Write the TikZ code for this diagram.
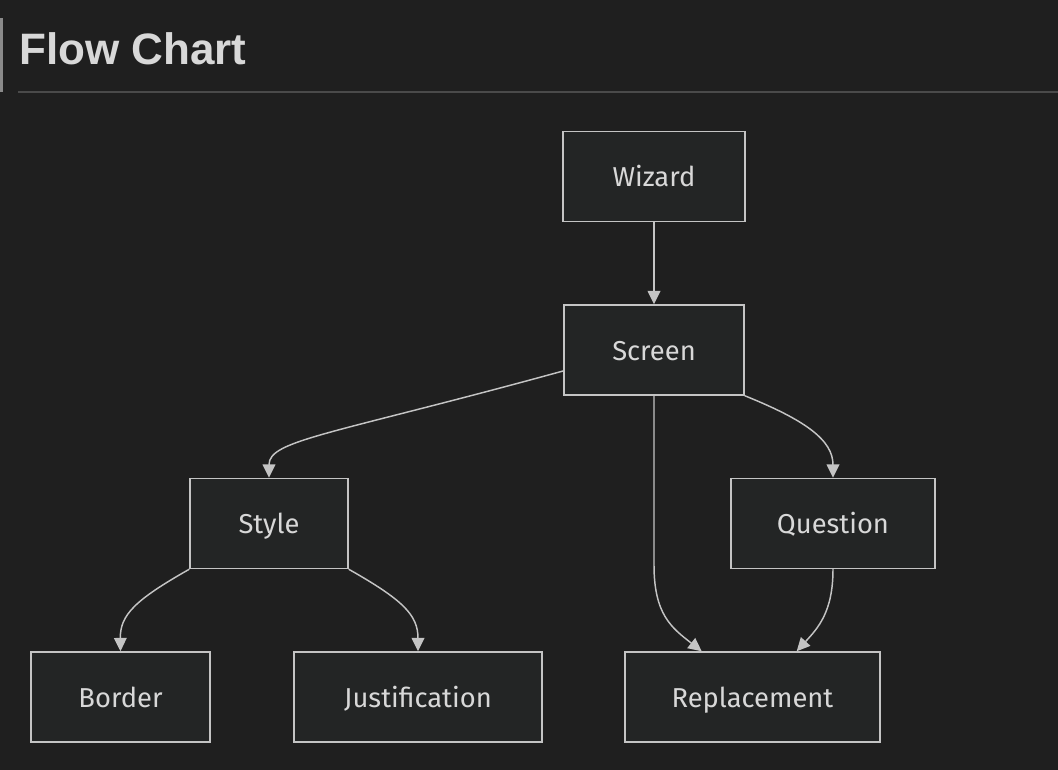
\documentclass[tikz,border=0pt]{standalone}
\usepackage{fontspec}
\setmainfont{Fira Sans}
\newfontfamily\titlefont{Liberation Sans}
\usetikzlibrary{arrows.meta}

\definecolor{bgcol}{HTML}{1F1F1F}
\definecolor{boxfill}{HTML}{232525}
\definecolor{boxline}{HTML}{C4C4C4}
\definecolor{txtcol}{HTML}{D8D8D8}
\definecolor{rulecol}{HTML}{4A4A4A}
\definecolor{barcol}{HTML}{8A8A8A}

\tikzset{
  stepbox/.style={draw=boxline, fill=boxfill, line width=1.1pt, text=txtcol,
    minimum height=67.5pt, inner sep=0pt, text height=18pt, text depth=3pt,
    font=\fontsize{20.5}{24}\selectfont},
  link/.style={draw=boxline, line width=1.1pt,
    -{Triangle[length=10pt, width=9.5pt, fill=boxline]}}
}

\begin{document}
\begin{tikzpicture}[x=.75pt, y=-.75pt]
  \fill[bgcol] (0,0) rectangle (1058,770);
  \useasboundingbox (0,0) rectangle (1058,770);

  % heading
  \fill[barcol] (0,18) rectangle (3,92);
  \draw[rulecol, line width=.9pt] (18,92) -- (1058,92);
  \node[anchor=base west, inner sep=0pt, text=txtcol,
    font=\titlefont\bfseries\fontsize{33}{38}\selectfont] (title) at (19,65) {Flow Chart};

  % boxes
  \node[stepbox, minimum width=136.5pt] (wizard) at (654,176.5) {Wizard};
  \node[stepbox, minimum width=135pt] (screen) at (654,350) {Screen};
  \node[stepbox, minimum width=118.5pt] (style) at (269,523.5) {Style};
  \node[stepbox, minimum width=153pt] (question) at (833,523.5) {Question};
  \node[stepbox, minimum width=134.25pt] (border) at (120.5,697) {Border};
  \node[stepbox, minimum width=186pt] (justif) at (418,697) {Justification};
  \node[stepbox, minimum width=191.25pt] (replace) at (752.5,697) {Replacement};

  % links
  \draw[link] (wizard.south) -- (screen.north);
  \draw[link] (screen.193) .. controls (330,435) and (269,440) .. (style.north);
  \draw[link] (screen.south east) .. controls (805,420) and (833,440) .. (question.north);
  \draw[link] (screen.south) -- (654,565) .. controls (654,615) and (672,628) .. (replace.138);
  \draw[link] (question.south) .. controls (833,612) and (818,628) .. (replace.46);
  \draw[link] (style.south west) .. controls (135,600) and (120,615) .. (border.north);
  \draw[link] (style.south east) .. controls (403,600) and (418,615) .. (justif.north);
\end{tikzpicture}
\end{document}
